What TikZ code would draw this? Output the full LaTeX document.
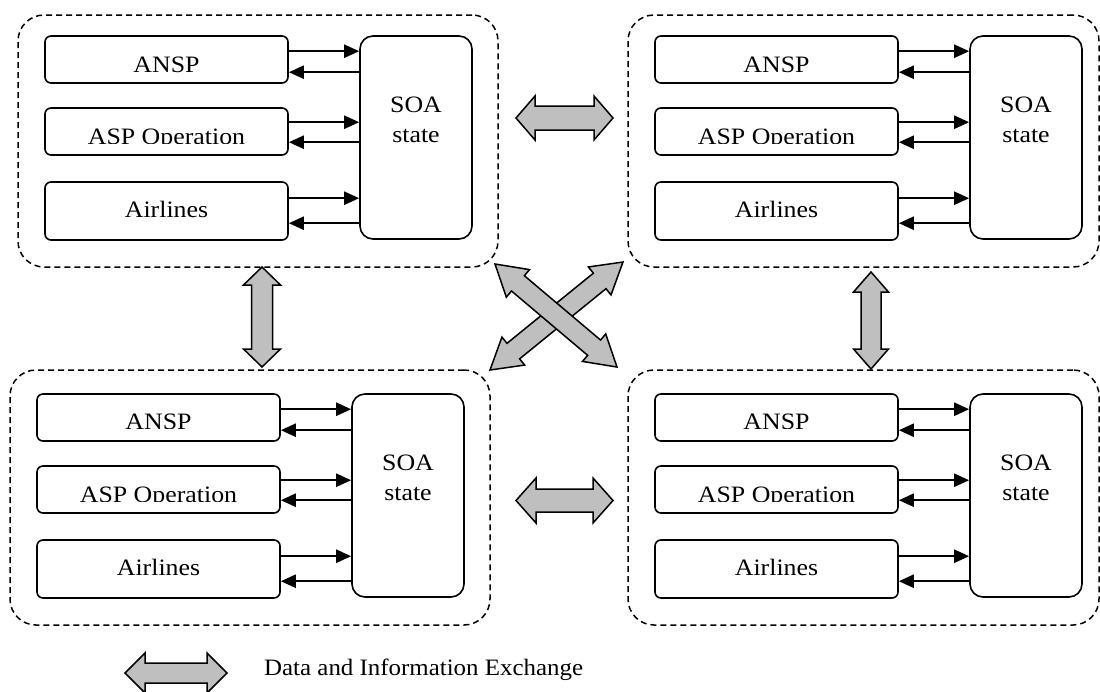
\documentclass[tikz,border=0pt]{standalone}
\usepackage{fontspec}
\setmainfont{Liberation Serif}
\usepackage{graphicx}
\usetikzlibrary{arrows.meta}

\tikzset{
  group/.style={draw, dash pattern=on 6pt off 4pt, line width=1.5pt, rounded corners=26pt, inner sep=0pt},
  unit/.style={draw, line width=1.6pt, rounded corners=6pt, inner sep=0pt, minimum width=243pt},
  soa/.style={draw, line width=1.6pt, rounded corners=13pt, inner sep=0pt, minimum width=112pt, minimum height=203pt},
  lbl/.style={anchor=base, inner sep=0pt, font=\fontsize{23.5pt}{28pt}\selectfont},
  flow/.style={line width=2.3pt, -{Triangle[length=15pt,width=13pt]}},
  exch/.style={draw, line width=1.5pt, fill=gray!50, line join=miter},
}

% widened serif text
\newcommand\stx[1]{\scalebox{1.10}[1]{#1}}

% one site: three units talking to the SOA state
% #1 prefix, #2/#3 shift, #4 ANSP baseline, #5 lower edge of the ANSP text
\newcommand\cluster[5]{%
\begin{scope}[shift={(#2,#3)}]
  \node[unit, minimum height=47pt] (#1-ansp) at (166.5,59.5) {};
  \node[unit, minimum height=47pt] (#1-asp)  at (166.5,131.5) {};
  \node[unit, minimum height=58pt] (#1-air)  at (166.5,211) {};
  \node[soa] (#1-soa) at (416,137.5) {};
  \begin{scope}
    \clip (45,36) rectangle (288,#5);
    \node[lbl] (#1-ansp-t) at (166.5,#4) {\stx{ANSP}};
  \end{scope}
  \begin{scope}
    \clip (45,108) rectangle (288,143.5);
    \node[lbl] (#1-asp-t) at (166.5,144) {\stx{ASP Operation}};
  \end{scope}
  \node[lbl] (#1-air-t) at (166.5,217) {\stx{Airlines}};
  \node[lbl] (#1-soa-t1) at (416,112) {\stx{SOA}};
  \node[lbl] (#1-soa-t2) at (416,142) {\stx{state}};
  \draw[flow] ([yshift=-16pt]#1-ansp.north east) -- ([yshift=-16pt]#1-ansp.north east -| #1-soa.west);
  \draw[flow] ([yshift=-37pt]#1-ansp.north east -| #1-soa.west) -- ([yshift=-37pt]#1-ansp.north east);
  \draw[flow] ([yshift=-15pt]#1-asp.north east) -- ([yshift=-15pt]#1-asp.north east -| #1-soa.west);
  \draw[flow] ([yshift=-35pt]#1-asp.north east -| #1-soa.west) -- ([yshift=-35pt]#1-asp.north east);
  \draw[flow] ([yshift=-17pt]#1-air.north east) -- ([yshift=-17pt]#1-air.north east -| #1-soa.west);
  \draw[flow] ([yshift=-42pt]#1-air.north east -| #1-soa.west) -- ([yshift=-42pt]#1-air.north east);
\end{scope}}

% grey double-headed exchange arrow
% #1/#2 first tip, #3 direction, #4 length, #5 head half width, #6 shaft half width, #7 head length
\newcommand\exch[7]{%
\begin{scope}[shift={(#1,#2)}, rotate=#3]
  \draw[exch] (0,0) -- (#7,#5) -- (#7,#6) -- ({#4-#7},#6) -- ({#4-#7},#5) -- (#4,0)
    -- ({#4-#7},-#5) -- ({#4-#7},-#6) -- (#7,-#6) -- (#7,-#5) -- cycle;
\end{scope}}

\begin{document}
\begin{tikzpicture}[x=1pt,y=-1pt]
\useasboundingbox (0,0) rectangle (1100,691);

% site frames
\node[group, minimum width=480pt, minimum height=252pt] (g-tl) at (258,141) {};
\node[group, minimum width=471pt, minimum height=252pt] (g-tr) at (863.5,141) {};
\node[group, minimum width=480pt, minimum height=255pt] (g-bl) at (250,497.5) {};
\node[group, minimum width=471pt, minimum height=255pt] (g-br) at (863.5,497.5) {};

\cluster{tl}{0}{0}{72.5}{90}
\cluster{tr}{610}{0}{72.5}{90}
\cluster{bl}{-8}{358}{71.5}{70.2}
\cluster{br}{610}{358}{71.5}{70.2}

% exchanges between the sites
\exch{516}{118}{0}{97}{22}{12}{19}
\exch{516}{500.5}{0}{97}{22.5}{11.5}{20}
\exch{262}{267}{-90}{100}{18.5}{10.5}{18}
\exch{871}{272}{-90}{97}{17.5}{10}{20}
\exch{490}{370}{39.08}{171.3}{18}{10}{30}
\exch{495}{264}{-40.18}{159.7}{18}{10}{30}

% legend
\exch{125}{673}{0}{102}{20}{10}{20}
\node[lbl, anchor=base west] (legend) at (264,675) {\scalebox{1.06}[1]{Data and Information Exchange}};
\end{tikzpicture}
\end{document}
